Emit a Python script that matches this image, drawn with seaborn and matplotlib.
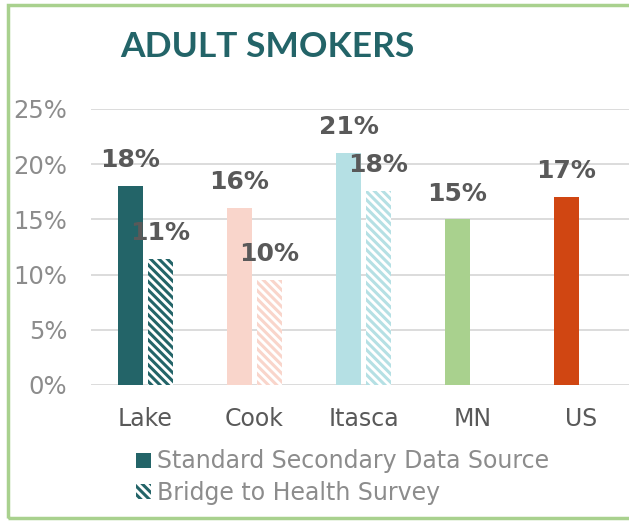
import numpy as np
import pandas as pd
import matplotlib.pyplot as plt
import seaborn as sns
from matplotlib.patches import Patch, Rectangle
from matplotlib.ticker import PercentFormatter

areas = ["Lake", "Cook", "Itasca", "MN", "US"]
standard = [18.0, 16.0, 21.0, 15.0, 17.0]
bridge = [11.4, 9.5, 17.6, np.nan, np.nan]
sources = ["Standard Secondary Data Source", "Bridge to Health Survey"]
area_colors = ["#236468", "#F9D5CB", "#B5E0E4", "#A9D18E", "#D04612"]

df = pd.DataFrame({
    "area": areas * 2,
    "source": [sources[0]] * len(areas) + [sources[1]] * len(areas),
    "value": standard + bridge,
}).dropna()

sns.set_theme(style="white")
plt.rcParams["font.family"] = ["DejaVu Sans"]
plt.rcParams["hatch.linewidth"] = 2.2

hatch = "\\" * 4

fig = plt.figure(figsize=(6.29, 5.21), dpi=100)
ax = fig.add_axes([91 / 629, 1 - 385 / 521, 545 / 629, 276 / 521])

sns.barplot(data=df, x="area", y="value", hue="source", order=areas,
            hue_order=sources, width=0.55, gap=0.17, errorbar=None,
            legend=False, ax=ax)

# colour each bar by its area; second series is hatched
for k, cont in enumerate(ax.containers):
    labels = []
    for bar in cont:
        idx = int(round(bar.get_x() + bar.get_width() / 2))
        col = area_colors[idx]
        if k == 0:
            bar.set_facecolor(col)
            bar.set_edgecolor(col)
        else:
            bar.set_facecolor("white")
            bar.set_edgecolor(col)
            bar.set_hatch(hatch)
        bar.set_linewidth(0)
        labels.append(f"{bar.get_height():.0f}%")
    ax.bar_label(cont, labels=labels, padding=10, fontsize=18,
                 fontweight="bold", color="#595959")

ax.set_xlim(-0.5, 4.5)
ax.set_ylim(0, 25)
ax.set_yticks(range(0, 26, 5))
ax.yaxis.set_major_formatter(PercentFormatter(decimals=0))
ax.grid(axis="y", color="#D9D9D9", linewidth=1.3)
ax.set_axisbelow(True)
for s in ax.spines.values():
    s.set_visible(False)
ax.tick_params(axis="y", length=0, pad=17, labelsize=17.5, labelcolor="#8C8C8C")
ax.tick_params(axis="x", length=0, pad=16, labelsize=17, labelcolor="#595959")
ax.set_xlabel("")
ax.set_ylabel("")

fig.text(267 / 629, 1 - 47 / 521, "ADULT SMOKERS", ha="center", va="center",
         fontsize=25.5, fontweight="bold", color="#236468",
         family=["Lato", "DejaVu Sans"])

handles = [Patch(facecolor="#236468", edgecolor="#236468", linewidth=0),
           Patch(facecolor="white", edgecolor="#236468", hatch=hatch, linewidth=0)]
leg = fig.legend(handles, sources, loc="upper left",
                 bbox_to_anchor=(127 / 629, 1 - 440 / 521), frameon=False,
                 fontsize=17, handlelength=0.6, handleheight=0.6,
                 handletextpad=0.25, labelspacing=0.33, borderaxespad=0)
for t in leg.get_texts():
    t.set_color("#8C8C8C")

fig.patches.append(Rectangle((8 / 629, 1 - 518 / 521), 1.1, 513 / 521,
                             transform=fig.transFigure, fill=False,
                             edgecolor="#A9D18E", linewidth=2.5))

plt.savefig("out.png", dpi=100)
